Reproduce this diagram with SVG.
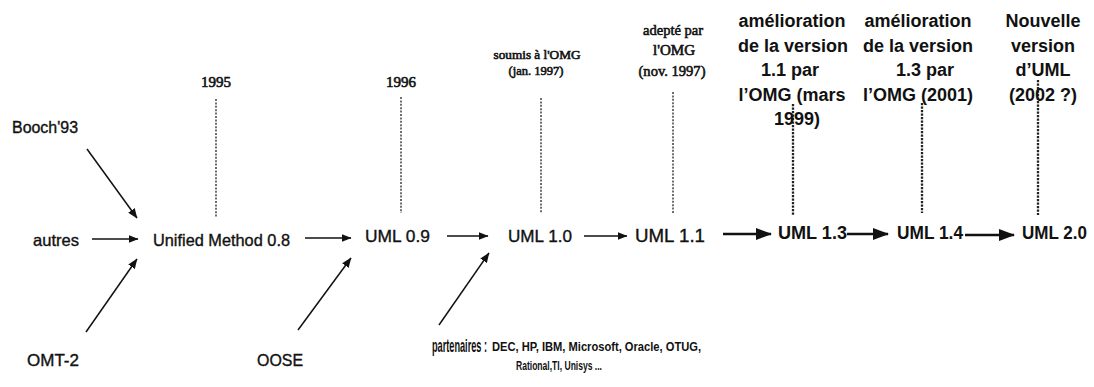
<svg xmlns="http://www.w3.org/2000/svg" width="1094" height="387" viewBox="0 0 1094 387">
<style>
.s{font-family:"Liberation Sans",Arial,sans-serif;fill:#111;stroke:#111;stroke-width:0.35}
.b{font-family:"Liberation Sans",Arial,sans-serif;font-weight:bold;fill:#111}
.r{font-family:"Liberation Serif","Times New Roman",serif;fill:#111;stroke:#111;stroke-width:0.6}
.m{text-anchor:middle}
.a{stroke:#111;stroke-width:1.5;fill:none;marker-end:url(#ah)}
.ab{stroke:#111;stroke-width:2.6;fill:none;marker-end:url(#ahb)}
.d{stroke:#222;stroke-width:1.3;stroke-dasharray:2 1.4;fill:none}
.db{stroke:#222;stroke-width:2.3;stroke-dasharray:2.2 1.3;fill:none}
</style>
<defs>
<marker id="ah" markerWidth="10" markerHeight="8" refX="9.5" refY="4" orient="auto" markerUnits="userSpaceOnUse"><path d="M0,0 L10,4 L0,8 z" fill="#111"/></marker>
<marker id="ahb" markerWidth="16" markerHeight="12" refX="15" refY="6" orient="auto" markerUnits="userSpaceOnUse"><path d="M0,0 L16,6 L0,12 z" fill="#111"/></marker>
</defs>
<rect width="1094" height="387" fill="#fff"/>

<g id="connectors">
<line class="a" x1="92" y1="239" x2="138" y2="239"/>
<line class="a" x1="305" y1="238" x2="351" y2="238"/>
<line class="a" x1="447" y1="236" x2="488" y2="236"/>
<line class="a" x1="584" y1="236" x2="627" y2="236"/>
<line class="ab" x1="723" y1="234" x2="771" y2="234"/>
<line class="ab" x1="847" y1="234" x2="888" y2="234"/>
<line class="ab" x1="965" y1="235" x2="1014" y2="235"/>
<line class="a" x1="87" y1="149" x2="137" y2="218"/>
<line class="a" x1="86" y1="332" x2="137" y2="259"/>
<line class="a" x1="298" y1="330" x2="351" y2="258"/>
<line class="a" x1="439" y1="325" x2="489" y2="253"/>
<line class="d" x1="216" y1="99" x2="216" y2="217"/>
<line class="d" x1="401" y1="97" x2="401" y2="213"/>
<line class="d" x1="541" y1="98" x2="541" y2="213"/>
<line class="d" x1="673" y1="92" x2="673" y2="213"/>
<line class="db" x1="793" y1="104" x2="793" y2="215"/>
<line class="db" x1="922" y1="103" x2="922" y2="213"/>
<line class="db" x1="1038" y1="80" x2="1038" y2="215"/>
</g>

<g id="booch"><text class="s" x="12" y="133" font-size="16" textLength="66" lengthAdjust="spacingAndGlyphs">Booch'93</text></g>
<g id="autres"><text class="s" x="33" y="246" font-size="16.5" textLength="46" lengthAdjust="spacingAndGlyphs">autres</text></g>
<g id="omt2"><text class="s" x="27" y="366" font-size="16.5" textLength="52" lengthAdjust="spacingAndGlyphs">OMT-2</text></g>
<g id="unified"><text class="s" x="153" y="246" font-size="16.5" textLength="137" lengthAdjust="spacingAndGlyphs">Unified Method 0.8</text></g>
<g id="oose"><text class="s" x="257" y="366" font-size="16.5" textLength="46" lengthAdjust="spacingAndGlyphs">OOSE</text></g>
<g id="uml09"><text class="s" x="365" y="242" font-size="17" textLength="65" lengthAdjust="spacingAndGlyphs">UML 0.9</text></g>
<g id="uml10"><text class="s" x="508" y="242" font-size="17" textLength="64" lengthAdjust="spacingAndGlyphs">UML 1.0</text></g>
<g id="uml11"><text class="s" x="635" y="242" font-size="18" textLength="70" lengthAdjust="spacingAndGlyphs">UML 1.1</text></g>
<g id="uml13"><text class="b" x="778" y="239" font-size="18" textLength="69" lengthAdjust="spacingAndGlyphs">UML 1.3</text></g>
<g id="uml14"><text class="b" x="897" y="239" font-size="18" textLength="66" lengthAdjust="spacingAndGlyphs">UML 1.4</text></g>
<g id="uml20"><text class="b" x="1022" y="239" font-size="18" textLength="65" lengthAdjust="spacingAndGlyphs">UML 2.0</text></g>
<g id="partenaires">
<text class="b" transform="translate(432,352) scale(0.51,1)" x="0" y="0" font-size="18">partenaires :</text>
<text class="b" x="492" y="351" font-size="12" textLength="209" lengthAdjust="spacingAndGlyphs">DEC, HP, IBM, Microsoft, Oracle, OTUG,</text>
<text class="b" x="516" y="370" font-size="12" textLength="86" lengthAdjust="spacingAndGlyphs">Rational,TI, Unisys ...</text>
</g>

<g id="lbl1995"><text class="r m" x="216" y="87" font-size="15">1995</text></g>
<g id="lbl1996"><text class="r m" x="401" y="87" font-size="15">1996</text></g>
<g id="lbl-soumis">
<text class="r m" x="537" y="59" font-size="13" textLength="87" lengthAdjust="spacingAndGlyphs">soumis à l'OMG</text>
<text class="r m" x="536" y="75" font-size="13" textLength="55" lengthAdjust="spacingAndGlyphs">(jan. 1997)</text>
</g>
<g id="lbl-adopte">
<text class="r m" x="673" y="35" font-size="15" textLength="60" lengthAdjust="spacingAndGlyphs">adepté par</text>
<text class="r m" x="674" y="55" font-size="15" textLength="42" lengthAdjust="spacingAndGlyphs">l'OMG</text>
<text class="r m" x="672" y="76" font-size="15" textLength="67" lengthAdjust="spacingAndGlyphs">(nov. 1997)</text>
</g>
<g id="lbl-v13" class="b m" font-size="18">
<text x="792" y="27">amélioration</text>
<text x="793" y="52">de la version</text>
<text x="790" y="76">1.1 par</text>
<text x="792" y="101">l’OMG (mars</text>
<text x="797" y="125">1999)</text>
</g>
<g id="lbl-v14" class="b m" font-size="18">
<text x="918" y="27">amélioration</text>
<text x="918" y="52">de la version</text>
<text x="925" y="76">1.3 par</text>
<text x="918" y="101">l’OMG (2001)</text>
</g>
<g id="lbl-v20" class="b m" font-size="18">
<text x="1043" y="27">Nouvelle</text>
<text x="1043" y="52">version</text>
<text x="1043" y="76">d’UML</text>
<text x="1043" y="101">(2002 ?)</text>
</g>
</svg>
